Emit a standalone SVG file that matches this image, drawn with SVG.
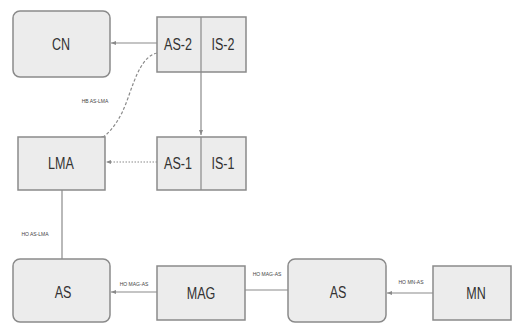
<svg xmlns="http://www.w3.org/2000/svg" width="512" height="325" viewBox="0 0 512 325">
<style>
.box{fill:#ececec;stroke:#8a8a8a;stroke-width:1.5}
.div{stroke:#8a8a8a;stroke-width:1.2}
.lbl{font-family:"Liberation Sans",Arial,sans-serif;font-size:16.5px;fill:#333;text-anchor:middle}
.sm{font-family:"Liberation Sans",Arial,sans-serif;font-size:5px;fill:#444;text-anchor:middle}
.ln{stroke:#8a8a8a;stroke-width:1.2;fill:none}
.dot{stroke-dasharray:1.5 1.5}
.dash{stroke-dasharray:3 2}
</style>
<defs>
<marker id="ah" markerWidth="6" markerHeight="6" refX="5" refY="3" orient="auto" markerUnits="userSpaceOnUse">
<path d="M0,1 L5,3 L0,5 z" fill="#8a8a8a"/>
</marker>
</defs>
<rect width="512" height="325" fill="#ffffff"/>
<g id="connectors">
<line class="ln" x1="157" y1="43" x2="111" y2="43" marker-end="url(#ah)"/>
<line class="ln" x1="201" y1="72" x2="201" y2="135" marker-end="url(#ah)"/>
<line class="ln dot" x1="157" y1="162" x2="106" y2="162" marker-end="url(#ah)"/>
<path class="ln dash" d="M157,53 C143,56 136,75 128,98 C121,118 112,132 99,140" marker-end="url(#ah)"/>
<line class="ln" x1="62" y1="190" x2="62" y2="259"/>
<line class="ln" x1="157" y1="292" x2="111" y2="292" marker-end="url(#ah)"/>
<line class="ln" x1="245" y1="290" x2="288" y2="290"/>
<line class="ln" x1="433" y1="293" x2="387" y2="293" marker-end="url(#ah)"/>
<text class="sm" x="95" y="103">HB AS-LMA</text>
<text class="sm" x="35" y="236">HO AS-LMA</text>
<text class="sm" x="134" y="286">HO MAG-AS</text>
<text class="sm" x="267" y="276">HO MAG-AS</text>
<text class="sm" x="411" y="284">HO MN-AS</text>
</g>
<g id="CN">
<rect class="box" x="13" y="11" width="97" height="66" rx="7"/>
<g transform="translate(61,50) scale(0.76,1)"><text class="lbl" x="0" y="0">CN</text></g>
</g>
<g id="AS2IS2">
<rect class="box" x="157" y="17" width="89" height="55"/>
<line class="div" x1="201" y1="17" x2="201" y2="72"/>
<g transform="translate(178,50) scale(0.76,1)"><text class="lbl" x="0" y="0">AS-2</text></g>
<g transform="translate(223,50) scale(0.76,1)"><text class="lbl" x="0" y="0">IS-2</text></g>
</g>
<g id="LMA">
<rect class="box" x="18" y="137" width="87" height="53"/>
<g transform="translate(61,169) scale(0.76,1)"><text class="lbl" x="0" y="0">LMA</text></g>
</g>
<g id="AS1IS1">
<rect class="box" x="157" y="137" width="89" height="53"/>
<line class="div" x1="201" y1="137" x2="201" y2="190"/>
<g transform="translate(178,169) scale(0.76,1)"><text class="lbl" x="0" y="0">AS-1</text></g>
<g transform="translate(223,169) scale(0.76,1)"><text class="lbl" x="0" y="0">IS-1</text></g>
</g>
<g id="AS_left">
<rect class="box" x="13" y="259" width="97" height="63" rx="7"/>
<g transform="translate(63,298) scale(0.76,1)"><text class="lbl" x="0" y="0">AS</text></g>
</g>
<g id="MAG">
<rect class="box" x="157" y="266" width="88" height="54"/>
<g transform="translate(201,299) scale(0.76,1)"><text class="lbl" x="0" y="0">MAG</text></g>
</g>
<g id="AS_right">
<rect class="box" x="288" y="259" width="98" height="63" rx="7"/>
<g transform="translate(338,298) scale(0.76,1)"><text class="lbl" x="0" y="0">AS</text></g>
</g>
<g id="MN">
<rect class="box" x="433" y="266" width="78" height="54"/>
<g transform="translate(476,299) scale(0.76,1)"><text class="lbl" x="0" y="0">MN</text></g>
</g>
</svg>
